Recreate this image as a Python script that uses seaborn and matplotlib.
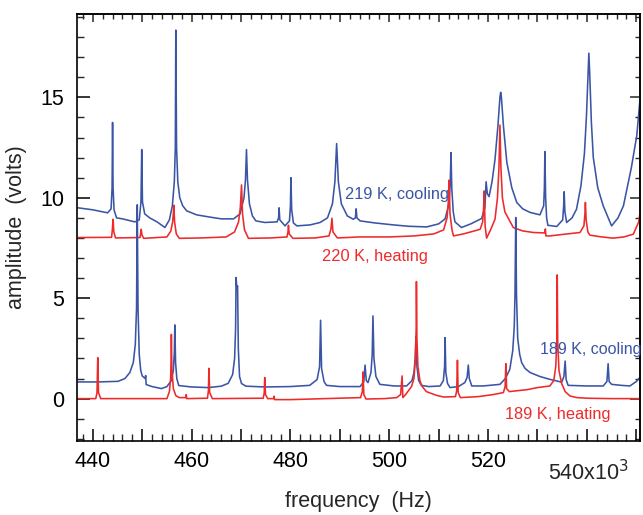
import matplotlib
matplotlib.use("Agg")
import matplotlib.pyplot as plt
import seaborn as sns
import pandas as pd
from matplotlib.ticker import MultipleLocator, FuncFormatter

# ---------------- data: (frequency kHz, amplitude V) ----------------
cool219 = [(437.0, 9.5), (440, 9.4), (443.0, 9.25), (443.7, 9.45), (443.9, 10.5), (444.0, 13.75),
           (444.1, 10.5), (444.3, 9.4), (444.8, 9.0), (446, 8.95), (448.5, 8.8), (449.4, 8.9),
           (449.75, 9.8), (449.9, 12.4), (450.05, 9.8), (450.5, 9.2), (451.5, 9.0), (453, 8.8),
           (454.6, 8.52), (455.5, 8.9), (456.1, 9.6), (456.5, 10.8), (456.7, 12.5), (456.8, 18.35),
           (456.95, 12.5), (457.2, 10.8), (457.6, 10.0), (458.2, 9.6), (459, 9.35), (461, 9.15),
           (463.4, 9.05), (466, 8.95), (468.5, 8.95), (469.8, 9.2), (470.6, 10.0), (470.9, 10.9),
           (471.1, 12.4), (471.3, 10.9), (471.7, 9.7), (472.3, 9.1), (473, 8.85), (474.8, 8.77),
           (477.3, 8.8), (477.6, 9.0), (477.7, 9.5), (477.85, 8.9), (478.9, 8.6), (479.8, 8.85),
           (480.0, 9.6), (480.1, 11.0), (480.25, 9.4), (480.6, 8.75), (481.3, 8.6), (484, 8.65),
           (486.0, 8.77), (487.5, 9.0), (488.5, 9.7), (489.0, 10.8), (489.35, 12.7), (489.7, 10.8),
           (490.3, 9.7), (491.5, 9.1), (492.7, 8.93), (493.15, 9.0), (493.3, 9.45), (493.45, 9.0),
           (494.1, 8.85), (497, 8.75), (500.8, 8.65), (504, 8.58), (507.6, 8.55), (510, 8.7),
           (511.3, 8.95), (512.1, 9.7), (512.35, 10.8), (512.5, 12.25), (512.65, 10.5),
           (512.95, 9.3), (513.3, 8.8), (514.6, 8.52), (516.5, 8.7), (518.7, 8.97), (519.35, 9.5),
           (519.6, 10.8), (519.85, 10.2), (520.2, 10.06), (520.8, 10.8), (521.4, 11.9),
           (522.0, 13.6), (522.4, 15.0), (522.55, 15.25), (522.7, 15.0), (523.1, 13.6),
           (523.8, 11.76), (524.8, 10.5), (525.8, 9.77), (527, 9.45), (528.5, 9.27), (530.5, 9.15),
           (531.25, 9.6), (531.4, 10.5), (531.5, 12.3), (531.65, 10.0), (531.85, 9.0),
           (532.1, 8.63), (533.9, 8.57), (535.1, 8.9), (535.3, 9.6), (535.4, 10.3), (535.55, 9.3),
           (535.9, 8.77), (537.0, 9.0), (537.9, 9.43), (538.8, 10.6), (539.5, 12.2), (539.9, 14.0),
           (540.2, 16.0), (540.4, 17.2), (540.6, 16.0), (540.9, 13.8), (541.3, 12.0),
           (542.2, 10.5), (543.3, 9.6), (545.0, 8.6), (546.3, 9.0), (547.4, 9.6), (549, 11.5),
           (550.1, 13.1), (551, 15.6)]

heat220 = [(437, 8.02), (443.8, 8.03), (443.95, 8.4), (444.1, 8.93), (444.25, 8.3), (444.6, 8.0),
           (449.55, 8.02), (449.7, 8.25), (449.8, 8.43), (449.95, 8.15), (450.3, 7.98),
           (455.0, 8.05), (455.8, 8.35), (456.15, 8.8), (456.3, 9.2), (456.4, 9.63), (456.55, 8.8),
           (456.9, 8.2), (457.5, 7.98), (462, 8.0), (467, 8.05), (468.7, 8.3), (469.5, 8.8),
           (469.85, 9.5), (470.1, 10.64), (470.3, 9.2), (470.7, 8.4), (471.5, 7.98), (476, 8.0),
           (479.3, 8.05), (479.5, 8.3), (479.6, 8.63), (479.75, 8.2), (480.5, 7.98), (485, 8.0),
           (487.8, 8.1), (488.2, 8.45), (488.4, 8.98), (488.6, 8.3), (489.5, 8.0), (494, 8.05),
           (500, 8.05), (505, 8.1), (509, 8.2), (511.0, 8.4), (511.7, 9.0), (511.95, 9.8),
           (512.1, 10.88), (512.3, 9.2), (512.7, 8.4), (513.0, 8.1), (515, 8.2), (518.4, 8.43),
           (518.9, 8.8), (519.1, 9.5), (519.2, 10.34), (519.4, 8.6), (519.7, 7.99), (520.5, 8.4),
           (521.4, 8.93), (521.9, 10.0), (522.2, 11.5), (522.4, 13.62), (522.6, 11.5),
           (522.9, 10.0), (523.4, 9.3), (525.1, 8.52), (527, 8.35), (529.2, 8.27), (531.5, 8.25),
           (531.6, 8.45), (531.7, 8.1), (532.5, 8.1), (536, 8.2), (538.6, 8.27), (539.4, 8.6),
           (539.6, 9.2), (539.7, 9.77), (539.85, 8.9), (540.2, 8.3), (540.6, 8.14), (543, 8.05),
           (545.3, 7.99), (547.5, 8.05), (549.4, 8.19), (550.5, 8.8), (551, 9.7)]

cool189 = [(437, 0.83), (441, 0.83), (445.1, 0.86), (446.5, 1.0), (447.5, 1.3), (448.2, 1.8),
           (448.6, 2.7), (448.85, 4.5), (449.0, 9.65), (449.15, 4.5), (449.4, 2.2), (449.7, 1.4),
           (450.0, 1.13), (450.6, 1.0), (450.7, 1.15), (450.8, 0.7), (452, 0.6), (453.9, 0.5),
           (455.0, 0.6), (455.9, 0.9), (456.3, 1.4), (456.5, 2.3), (456.6, 3.67), (456.75, 1.8),
           (457.0, 1.0), (457.4, 0.65), (460, 0.58), (463.4, 0.55), (466, 0.62), (467.4, 0.76),
           (468.3, 1.2), (468.7, 2.0), (468.9, 3.5), (469.0, 6.03), (469.15, 5.5), (469.3, 5.61),
           (469.45, 2.5), (469.7, 1.1), (470.1, 0.75), (471, 0.62), (474.8, 0.58), (480, 0.6),
           (483.9, 0.66), (485.4, 0.95), (485.9, 1.6), (486.1, 3.9), (486.3, 1.5), (486.8, 0.85),
           (487.3, 0.66), (490, 0.6), (494.1, 0.6), (494.85, 0.85), (495.1, 1.67), (495.35, 0.9),
           (495.7, 0.8), (496.3, 1.3), (496.55, 2.2), (496.7, 4.12), (496.9, 2.0), (497.3, 1.1),
           (498.1, 0.71), (501, 0.63), (503.5, 0.63), (504.6, 0.9), (505.0, 1.3), (505.25, 2.0),
           (505.4, 3.09), (505.6, 1.6), (505.95, 0.9), (506.5, 0.66), (508, 0.6), (510.3, 0.63),
           (510.95, 0.9), (511.2, 1.6), (511.3, 3.04), (511.45, 1.3), (511.8, 0.75), (512.3, 0.55),
           (514, 0.6), (515.3, 0.8), (515.75, 1.05), (516.0, 1.67), (516.2, 1.0), (516.7, 0.63),
           (519, 0.63), (522.4, 0.71), (523.5, 1.0), (524.4, 1.46), (525.0, 2.4), (525.3, 3.6),
           (525.45, 5.2), (525.6, 9.02), (525.75, 5.2), (526.0, 3.0), (526.4, 2.2), (526.8, 1.79),
           (527.5, 1.5), (528.5, 1.3), (530.5, 1.1), (532.5, 0.96), (534.9, 0.82), (535.35, 1.1),
           (535.6, 1.87), (535.8, 0.95), (536.2, 0.66), (540, 0.63), (543.3, 0.63), (544.05, 0.85),
           (544.3, 1.74), (544.5, 0.85), (545.0, 0.71), (547, 0.66), (548.7, 0.63), (550, 0.85),
           (551, 1.13)]

heat189 = [(437, 0.0), (440.6, 0.0), (440.85, 0.3), (441.0, 2.04), (441.15, 0.3), (441.6, 0.0),
           (455.0, 0.0), (455.5, 0.35), (455.75, 1.0), (455.85, 2.0), (455.9, 3.2), (456.0, 1.5),
           (456.3, 0.5), (456.8, 0.15), (457.5, 0.05), (458.8, 0.05), (458.9, 0.2), (459.0, 0.0),
           (463.2, 0.02), (463.4, 0.4), (463.5, 1.51), (463.65, 0.3), (464.2, 0.0), (474.5, 0.02),
           (474.7, 0.3), (474.8, 1.05), (474.95, 0.2), (475.4, 0.0), (476.6, 0.0), (476.7, 0.12),
           (476.8, -0.05), (480, -0.05), (487, 0.0), (494.2, 0.05), (494.55, 0.35), (494.7, 1.33),
           (494.85, 0.2), (495.3, -0.02), (499, 0.0), (501.5, 0.05), (502.3, 0.2), (502.6, 1.13),
           (502.75, 0.05), (503.3, 0.2), (504.5, 0.6), (505.0, 1.0), (505.3, 2.0), (505.45, 3.5),
           (505.5, 5.83), (505.6, 3.0), (505.8, 1.6), (506.2, 0.9), (506.6, 0.63), (507.5, 0.35),
           (509.6, 0.16), (511, 0.08), (513.4, 0.1), (513.65, 0.4), (513.8, 1.91), (513.95, 0.3),
           (514.4, 0.05), (518, 0.1), (521, 0.2), (523.1, 0.3), (523.45, 0.6), (523.6, 1.74),
           (523.75, 0.5), (524.3, 0.35), (528, 0.45), (530, 0.55), (532.5, 0.63), (533.3, 0.9),
           (533.7, 1.6), (533.9, 2.8), (534.0, 6.16), (534.1, 2.8), (534.35, 1.4), (534.9, 0.75),
           (535.6, 0.35), (536.6, 0.13), (538, 0.05), (540, 0.02), (545, 0.0), (551, 0.0)]

trace_labels = ["219 K, cooling", "220 K, heating", "189 K, cooling", "189 K, heating"]
x_tick_values = [440, 460, 480, 500, 520]
x_tick_labels = ["440", "460", "480", "500", "520"]
y_tick_values = [0, 5, 10, 15]
y_tick_labels = ["0", "5", "10", "15"]

BLUE = "#3b55a6"
RED = "#ee2a2a"

# ---------------- figure ----------------
sns.set_style("ticks")
plt.rcParams["font.family"] = ["Liberation Sans", "DejaVu Sans"]

fig = plt.figure(figsize=(6.43, 5.15), dpi=100)
ax = fig.add_axes([77 / 643, 1 - 441 / 515, (640 - 77) / 643, (441 - 14) / 515])

series = [(cool219, BLUE), (heat220, RED), (cool189, BLUE), (heat189, RED)]
for (pts, c), name in zip(series, trace_labels):
    df = pd.DataFrame(pts, columns=["frequency", "amplitude"])
    sns.lineplot(data=df, x="frequency", y="amplitude", color=c, lw=1.15,
                 sort=False, estimator=None, ax=ax)

ax.set_xlim(436.8, 550.75)
ax.set_ylim(-2.11, 19.15)

# annotations
ax.text(491.0, 10.18, trace_labels[0], color=BLUE, fontsize=11.8, va="center", ha="left")
ax.text(486.4, 7.1, trace_labels[1], color=RED, fontsize=11.8, va="center", ha="left")
ax.text(530.5, 2.45, trace_labels[2], color=BLUE, fontsize=11.5, va="center", ha="left",
        clip_on=False)
ax.text(523.4, -0.8, trace_labels[3], color=RED, fontsize=11.8, va="center", ha="left")

# ticks
ax.xaxis.set_major_locator(MultipleLocator(10))
ax.xaxis.set_minor_locator(MultipleLocator(2))
lab_map = dict(zip(x_tick_values, x_tick_labels))
ax.xaxis.set_major_formatter(FuncFormatter(lambda v, p: lab_map.get(int(round(v)), "")))
ax.yaxis.set_major_locator(MultipleLocator(5))
ax.yaxis.set_minor_locator(MultipleLocator(1))
ylab_map = dict(zip(y_tick_values, y_tick_labels))
ax.yaxis.set_major_formatter(FuncFormatter(lambda v, p: ylab_map.get(int(round(v)), "")))

ax.tick_params(which="major", direction="in", length=9, width=1.1, labelsize=15.5, pad=7,
               colors="black")
ax.tick_params(which="minor", direction="in", length=5, width=1.0)
ax.tick_params(axis="y", pad=9)

ax.text(540.3, -0.045, "540x10$^3$", transform=ax.get_xaxis_transform(), ha="center", va="top",
        fontsize=15.5)

# top / right ticks (shorter)
top = ax.secondary_xaxis("top")
top.xaxis.set_major_locator(MultipleLocator(10))
top.xaxis.set_minor_locator(MultipleLocator(2))
top.tick_params(which="major", direction="in", length=6, width=1.1, labeltop=False)
top.tick_params(which="minor", direction="in", length=3.5, width=1.0)
right = ax.secondary_yaxis("right")
right.yaxis.set_major_locator(MultipleLocator(5))
right.yaxis.set_minor_locator(MultipleLocator(1))
right.tick_params(which="major", direction="in", length=7, width=1.1, labelright=False)
right.tick_params(which="minor", direction="in", length=3.5, width=1.0)

for sp in ax.spines.values():
    sp.set_visible(True)
    sp.set_linewidth(1.2)
    sp.set_color("black")
for s in (top, right):
    for sp in s.spines.values():
        sp.set_linewidth(1.2)

ax.set_xlabel("frequency  (Hz)", fontsize=15.5, labelpad=14)
ax.set_ylabel("amplitude  (volts)", fontsize=15.5, labelpad=10)

fig.savefig("out.png", dpi=100)
